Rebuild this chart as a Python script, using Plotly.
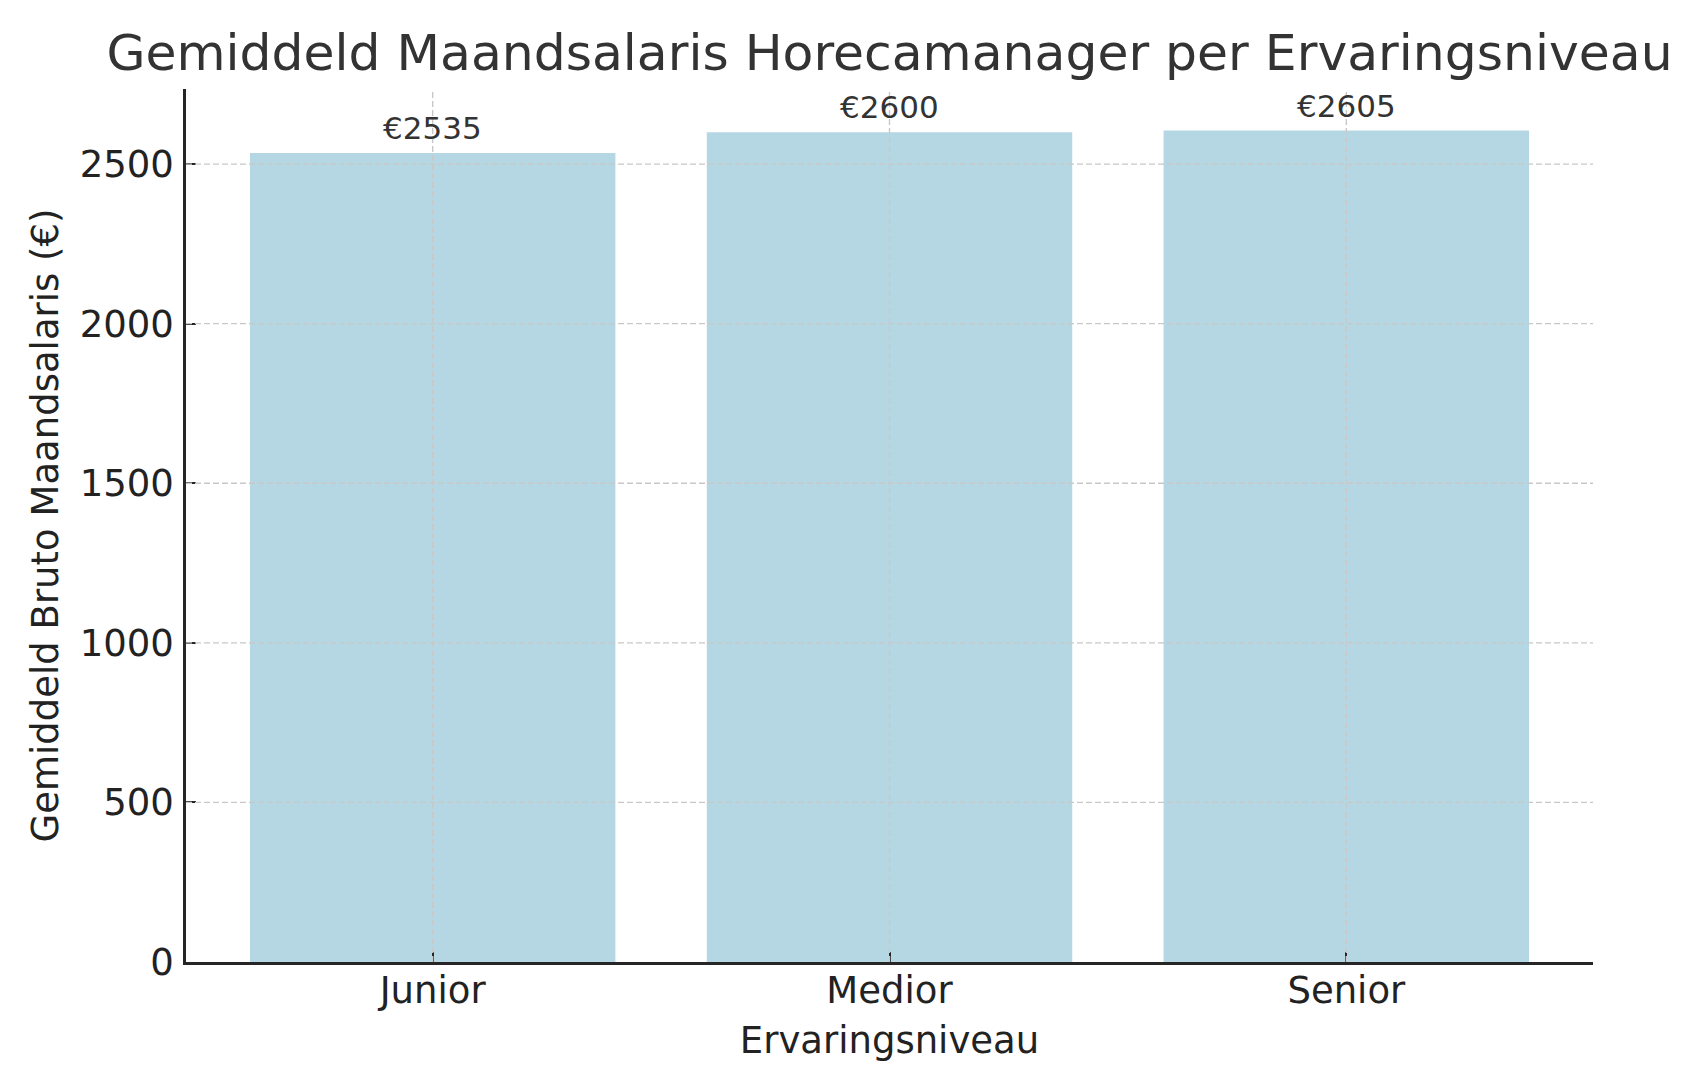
import plotly.graph_objects as go

categories = ["Junior", "Medior", "Senior"]
salaries = [2535, 2600, 2605]
value_labels = ["€2535", "€2600", "€2605"]
y_ticks = [0, 500, 1000, 1500, 2000, 2500]

FONT = "DejaVu Sans"
BAR_COLOR = "#B5D7E3"
GRID_COLOR = "#C8C8C8"
AXIS_COLOR = "#262626"

fig = go.Figure()
fig.add_trace(go.Bar(
    x=categories, y=salaries, width=0.8,
    marker=dict(color=BAR_COLOR, line=dict(width=0)),
    hoverinfo="x+y",
))

for cat, val, lab in zip(categories, salaries, value_labels):
    fig.add_annotation(x=cat, y=val, text=lab, showarrow=False,
                       yanchor="bottom", yshift=5,
                       font=dict(family=FONT, size=31, color="#333333"))

grid_line = dict(color=GRID_COLOR, width=1.4, dash="6px,3px")
for cat in categories:
    fig.add_shape(type="line", xref="x", yref="paper", x0=cat, x1=cat, y0=0, y1=1,
                  line=grid_line, layer="above")
for t in y_ticks[1:]:
    fig.add_shape(type="line", xref="paper", yref="y", x0=0, x1=1, y0=t, y1=t,
                  line=grid_line, layer="above")

ymax = max(salaries) * 1.05
fig.update_layout(
    width=1708, height=1080,
    margin=dict(l=186, r=115, t=89, b=118),
    paper_bgcolor="white", plot_bgcolor="white",
    showlegend=False,
    title=dict(text="Gemiddeld Maandsalaris Horecamanager per Ervaringsniveau",
               x=0.5, xref="paper", xanchor="center", y=1 - 52 / 1080, yanchor="middle",
               font=dict(family=FONT, size=50.4, color="#333333")),
    font=dict(family=FONT, color="#222222"),
    bargap=0.2,
)
fig.update_xaxes(
    type="category", range=[-0.54, 2.54], layer="above traces",
    showline=True, linecolor=AXIS_COLOR, linewidth=2.5,
    ticks="inside", ticklen=10, tickwidth=2, tickcolor=AXIS_COLOR,
    ticklabelstandoff=-6,
    showgrid=False, zeroline=False,
    tickfont=dict(family=FONT, size=37, color="#222222"),
    title=dict(text="Ervaringsniveau", standoff=16,
               font=dict(family=FONT, size=37, color="#222222")),
)
fig.update_yaxes(
    range=[0, ymax], tickvals=y_ticks, ticktext=[str(t) for t in y_ticks],
    layer="above traces",
    showline=True, linecolor=AXIS_COLOR, linewidth=2.5,
    ticks="inside", ticklen=10, tickwidth=2, tickcolor=AXIS_COLOR,
    ticklabelstandoff=2,
    showgrid=False, zeroline=False,
    tickfont=dict(family=FONT, size=37, color="#222222"),
    title=dict(text="Gemiddeld Bruto Maandsalaris (€)", standoff=10,
               font=dict(family=FONT, size=37, color="#222222")),
)

fig.write_html("out.html")
